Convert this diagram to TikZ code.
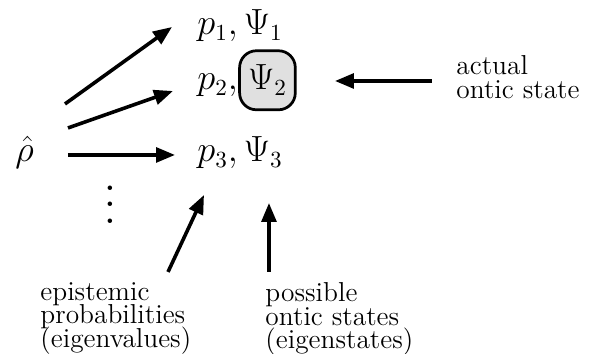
\documentclass[tikz,border=0pt]{standalone}
\usepackage{amsmath, amssymb}
\usepackage{tikz}
\usetikzlibrary{arrows.meta}

\tikzset{
  arrow/.style={line width=1.7pt, -{Triangle[length=9pt,width=7pt]}},
  row/.style={anchor=base west, inner sep=0pt, font=\fontsize{16}{19}\selectfont},
  note/.style={anchor=north west, align=left, inner sep=0pt,
    font={\fontsize{13}{11.2}\selectfont\lineskiplimit=-5pt}},
  ontic/.style={draw, line width=1.3pt, fill=black!12, rounded corners=8pt, inner xsep=4pt, minimum height=28pt, font=\fontsize{16}{19}\selectfont}
}

\begin{document}
\begin{tikzpicture}
  % Frame
  \useasboundingbox (0,0) rectangle (10.017,5.9);

  % Density operator and its eigen-decomposition
  \node[row] (rho) at (0.25,3.2) {$\hat{\rho}$};
  \node[row] (r1) at (3.283,5.317) {$p_1, \Psi_1$};
  \node[row] (r2) at (3.283,4.4) {$p_2,$};
  \node[ontic, anchor=base west] (psi2) at (r2.base east) {$\Psi_2$};
  \node[row] (r3) at (3.283,3.2) {$p_3, \Psi_3$};
  \node[scale=2] (dots) at (1.833,2.7) {$\vdots$};

  % Labels
  \node[note] (actual) at (7.6,4.983) {actual\\ontic state};
  \node[note] (epist) at (0.667,1.2) {epistemic\\probabilities\\(eigenvalues)};
  \node[note] (poss) at (4.417,1.2) {possible\\ontic states\\(eigenstates)};

  % Arrow ends
  \coordinate (rho1) at (1.083,4.167);
  \coordinate (rho2) at (1.133,3.767);
  \coordinate (rho3) at (1.133,3.317);
  \coordinate (to1) at (2.867,5.45);
  \coordinate (to2) at (2.883,4.383);
  \coordinate (to3) at (2.917,3.317);
  \coordinate (actualtail) at (7.2,4.55);
  \coordinate (actualtip) at (5.583,4.55);
  \coordinate (epitail) at (2.8,1.367);
  \coordinate (epitip) at (3.4,2.65);
  \coordinate (posstail) at (4.483,1.367);
  \coordinate (posstip) at (4.483,2.517);

  % Arrows
  \draw[arrow] (rho1) -- (to1);
  \draw[arrow] (rho2) -- (to2);
  \draw[arrow] (rho3) -- (to3);
  \draw[arrow] (actualtail) -- (actualtip);
  \draw[arrow] (epitail) -- (epitip);
  \draw[arrow] (posstail) -- (posstip);
\end{tikzpicture}
\end{document}
